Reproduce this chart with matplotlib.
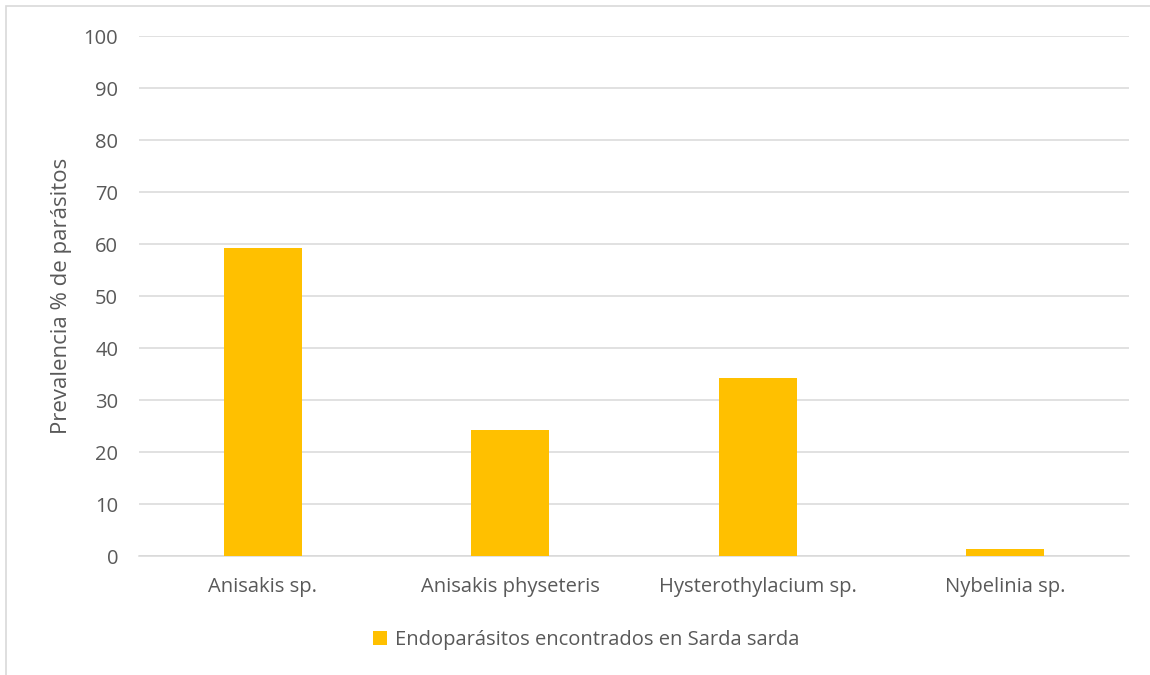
import matplotlib
matplotlib.use("Agg")
import matplotlib.pyplot as plt
from matplotlib.patches import Rectangle

categories = ["Anisakis sp.", "Anisakis physeteris", "Hysterothylacium sp.", "Nybelinia sp."]
prevalence = [59.2, 24.2, 34.3, 1.3]
series_name = "Endoparásitos encontrados en Sarda sarda"
y_ticks = [0, 10, 20, 30, 40, 50, 60, 70, 80, 90, 100]

bar_color = "#FFC000"
text_color = "#595959"
grid_color = "#D9D9D9"

plt.rcParams["font.family"] = ["Open Sans", "DejaVu Sans"]

fig = plt.figure(figsize=(11.5, 6.75), dpi=100)
W, H = 1150, 675

# outer chart frame
fig.patches.append(Rectangle((6 / W, -0.01), 1.1, 1 - 6 / H + 0.01, transform=fig.transFigure,
                             fill=False, edgecolor="#D9D9D9", linewidth=1.2))

ax = fig.add_axes([139 / W, 1 - 556 / H, (1129 - 139) / W, (556 - 36) / H])
x = range(len(categories))
ax.bar(x, prevalence, width=0.315, color=bar_color, zorder=3, label=series_name)

ax.set_xlim(-0.5, len(categories) - 0.5)
ax.set_ylim(0, 100)
ax.set_yticks(y_ticks)
ax.set_xticks(list(x))
ax.set_xticklabels(categories)
ax.yaxis.grid(True, color=grid_color, linewidth=1.1, zorder=0)
ax.set_axisbelow(True)
for side in ["top", "right", "left"]:
    ax.spines[side].set_visible(False)
ax.spines["bottom"].set_color(grid_color)
ax.spines["bottom"].set_linewidth(1.1)
ax.tick_params(axis="both", length=0, colors=text_color, labelsize=14.5)
ax.tick_params(axis="y", pad=15)
ax.tick_params(axis="x", pad=15)
ax.set_ylabel("Prevalencia % de parásitos", color=text_color, fontsize=16, labelpad=8)

fig.legend(loc="center", bbox_to_anchor=(0.51, 1 - 640 / H), frameon=False,
           fontsize=14.5, labelcolor=text_color, handlelength=0.7, handleheight=0.7,
           handletextpad=0.4)

fig.savefig("out.png", dpi=100, facecolor="white")
